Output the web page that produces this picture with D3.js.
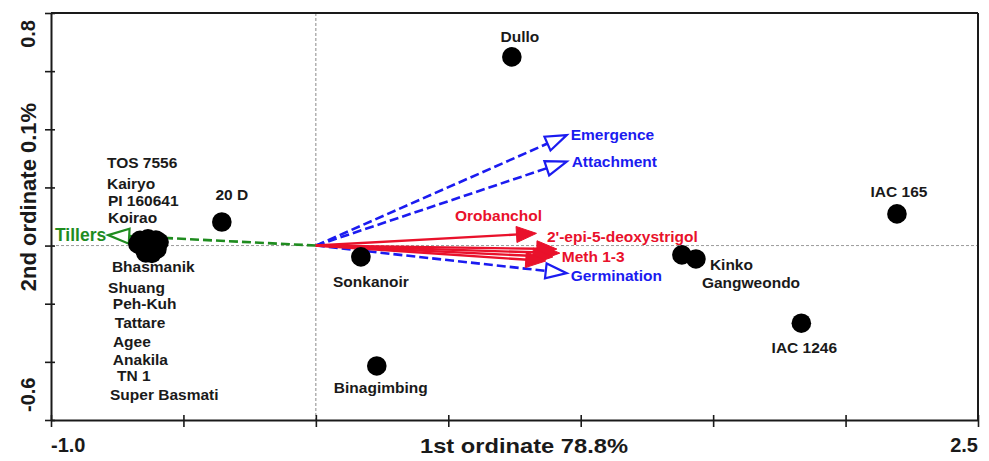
<!DOCTYPE html>
<html>
<head>
<meta charset="utf-8">
<script src="https://cdn.jsdelivr.net/npm/d3@7"></script>
<style>
  body { margin: 0; background: #fff; }
  text { font-family: "Liberation Sans", Arial, sans-serif; font-weight: bold; }
</style>
</head>
<body>
<div id="chart"></div>
<script>
// axis ranges and end labels
const xDomain = [-1.0, 2.5];
const yDomain = [-0.6, 0.8];
const xEndValues = [-1.0, 2.5];
const xEndLabels = ['-1.0', '2.5'];
const yEndValues = [0.8, -0.6];
const yEndLabels = ['0.8', '-0.6'];
const xTitle = '1st ordinate 78.8%';
const yTitle = '2nd ordinate 0.1%';

// cultivar scores
const cultivars = ['Dullo', '20 D', 'TOS 7556', 'Kairyo', 'PI 160641', 'Koirao', 'Bhasmanik', 'Shuang',
  'Peh-Kuh', 'Tattare', 'Agee', 'Anakila', 'TN 1', 'Super Basmati', 'Sonkanoir', 'Binagimbing',
  'Kinko', 'Gangweondo', 'IAC 165', 'IAC 1246'];
const axis1 = [0.740, -0.355, -0.664, -0.634, -0.604, -0.592, -0.653, -0.626,
  -0.608, -0.642, -0.619, -0.672, -0.600, -0.630, 0.170, 0.230,
  1.382, 1.435, 2.194, 1.833];
const axis2 = [0.649, 0.081, 0.018, 0.023, 0.019, 0.012, -0.005, -0.018,
  -0.001, -0.025, -0.027, 0.006, -0.012, 0.006, -0.039, -0.414,
  -0.032, -0.046, 0.109, -0.267];

// trait vectors
const traits = ['Emergence', 'Attachment', 'Germination', 'Tillers', 'Orobanchol',
  "2'-epi-5-deoxystrigol", 'Meth 1', 'Meth 2', 'Meth 3'];
const traitLabels = ['Emergence', 'Attachment', 'Germination', 'Tillers', 'Orobanchol',
  "2'-epi-5-deoxystrigol", 'Meth 1-3', '', ''];
const trait1 = [0.947, 0.947, 0.947, -0.784, 0.833, 0.910, 0.921, 0.895, 0.868];
const trait2 = [0.380, 0.289, -0.095, 0.036, 0.042, -0.012, -0.026, -0.039, -0.053];
const traitGroup = ['blue', 'blue', 'blue', 'green', 'red', 'red', 'red', 'red', 'red'];

// label placement (pixels from the mark)
const pointLabelPos = {
  'Dullo': [8, -15, 'middle'], '20 D': [10, -22, 'middle'],
  'TOS 7556': [-33, -72, 'start'], 'Kairyo': [-41, -50, 'start'],
  'PI 160641': [-48, -34, 'start'], 'Koirao': [-51, -19, 'start'],
  'Bhasmanik': [-31, 25, 'start'], 'Shuang': [-42, 42, 'start'],
  'Peh-Kuh': [-42, 63, 'start'], 'Tattare': [-31, 75, 'start'],
  'Agee': [-39, 94, 'start'], 'Anakila': [-25, 121, 'start'],
  'TN 1': [-40, 132, 'start'], 'Super Basmati': [-39, 156, 'start'],
  'Sonkanoir': [10, 30, 'middle'], 'Binagimbing': [4, 27, 'middle'],
  'Kinko': [28, 15, 'start'], 'Gangweondo': [6, 29, 'start'],
  'IAC 165': [2, -17, 'middle'], 'IAC 1246': [3, 30, 'middle']
};
const traitLabelPos = [[4, 5, 'start'], [5, 5, 'start'], [4, 8, 'start'], [-2, 6, 'end'],
  [-38, -12, 'middle'], [-10, -7, 'start'], [2, 9, 'start'], [0, 0, 'start'], [0, 0, 'start']];

const colors = { blue: '#1b1bf0', green: '#1f8c1f', red: '#e9112b' };

const width = 989, height = 461;
const svg = d3.select('#chart').append('svg')
  .attr('width', width).attr('height', height);
svg.append('rect').attr('width', width).attr('height', height).attr('fill', '#fff');

const xScale = d3.scaleLinear().domain(xDomain).range([51, 978]);
const yScale = d3.scaleLinear().domain(yDomain).range([420, 13]);

// zero reference lines
svg.append('line')
  .attr('x1', xScale(0)).attr('x2', xScale(0))
  .attr('y1', yScale(yDomain[1])).attr('y2', yScale(yDomain[0]))
  .attr('stroke', '#8a8a8a').attr('stroke-width', 1).attr('stroke-dasharray', '3 2');
svg.append('line')
  .attr('x1', xScale(xDomain[0])).attr('x2', xScale(xDomain[1]))
  .attr('y1', yScale(0)).attr('y2', yScale(0))
  .attr('stroke', '#9a9a9a').attr('stroke-width', 1).attr('stroke-dasharray', '3 2');

// axes
const xAxis = svg.append('g')
  .attr('transform', `translate(0, ${yScale(yDomain[0])})`)
  .call(d3.axisBottom(xScale).ticks(7).tickSize(7).tickSizeOuter(0).tickFormat(''));
xAxis.selectAll('line').attr('y1', -5);
const yAxis = svg.append('g')
  .attr('transform', `translate(${xScale(xDomain[0])}, 0)`)
  .call(d3.axisLeft(yScale).ticks(7).tickSize(6).tickSizeOuter(0).tickFormat(''));
yAxis.selectAll('line').attr('x1', 4);
svg.selectAll('.domain').attr('stroke', '#1a1a1a').attr('stroke-width', 2);
svg.selectAll('.tick line').attr('stroke', '#1a1a1a').attr('stroke-width', 1.6);

// top and right frame
svg.append('line')
  .attr('x1', xScale(xDomain[0])).attr('x2', xScale(xDomain[1]))
  .attr('y1', yScale(yDomain[1])).attr('y2', yScale(yDomain[1]))
  .attr('stroke', '#1a1a1a').attr('stroke-width', 2);
svg.append('line')
  .attr('x1', xScale(xDomain[1])).attr('x2', xScale(xDomain[1]))
  .attr('y1', yScale(yDomain[1])).attr('y2', yScale(yDomain[0]))
  .attr('stroke', '#1a1a1a').attr('stroke-width', 2);

// axis end labels
svg.selectAll('.xEnd')
  .data(xEndValues)
  .enter()
  .append('text')
  .attr('x', d => xScale(d))
  .attr('y', 452)
  .attr('text-anchor', (d, i) => i === 0 ? 'start' : 'end')
  .style('font-size', '20px')
  .attr('fill', '#1a1a1a')
  .text((d, i) => xEndLabels[i]);
svg.selectAll('.yEnd')
  .data(yEndValues)
  .enter()
  .append('text')
  .attr('transform', d => `translate(35, ${yScale(d) + (d > 0 ? 7 : -8)}) rotate(-90)`)
  .attr('text-anchor', d => d > 0 ? 'end' : 'start')
  .style('font-size', '20px')
  .attr('fill', '#1a1a1a')
  .text((d, i) => yEndLabels[i]);

svg.append('text')
  .attr('x', 524).attr('y', 453)
  .attr('text-anchor', 'middle')
  .attr('textLength', 208).attr('lengthAdjust', 'spacingAndGlyphs')
  .style('font-size', '21px')
  .attr('fill', '#1a1a1a')
  .text(xTitle);
svg.append('text')
  .attr('transform', 'translate(36, 197) rotate(-90)')
  .attr('text-anchor', 'middle')
  .style('font-size', '22px')
  .attr('fill', '#1a1a1a')
  .text(yTitle);

// trait vectors
const vectors = traits.map((t, i) => ({
  name: t, label: traitLabels[i], x: trait1[i], y: trait2[i], group: traitGroup[i]
}));
const ox = xScale(0), oy = yScale(0);

vectors.forEach((v, i) => {
  const tx = xScale(v.x), ty = yScale(v.y);
  const len = Math.hypot(tx - ox, ty - oy);
  const ux = (tx - ox) / len, uy = (ty - oy) / len;
  const isRed = v.group === 'red';
  const headLen = isRed ? 20 : 21;
  const headHalf = isRed ? 8 : 7.5;
  const bx = tx - ux * headLen, by = ty - uy * headLen;
  const col = colors[v.group];

  svg.append('line')
    .attr('x1', ox).attr('y1', oy)
    .attr('x2', isRed ? bx + ux * 2 : bx).attr('y2', isRed ? by + uy * 2 : by)
    .attr('stroke', col)
    .attr('stroke-width', isRed ? 2.4 : 2.6)
    .attr('stroke-dasharray', isRed ? null : '9 4');

  const head = [
    [tx, ty],
    [bx - uy * headHalf, by + ux * headHalf],
    [bx + uy * headHalf, by - ux * headHalf]
  ];
  svg.append('path')
    .attr('d', 'M' + head.map(p => p.join(',')).join('L') + 'Z')
    .attr('fill', isRed ? col : '#fff')
    .attr('stroke', col)
    .attr('stroke-width', isRed ? 1 : 2.2)
    .attr('stroke-linejoin', 'miter');
});

// points
const points = cultivars.map((c, i) => ({ name: c, x: axis1[i], y: axis2[i] }));
svg.selectAll('.pt')
  .data(points)
  .enter()
  .append('circle')
  .attr('cx', d => xScale(d.x))
  .attr('cy', d => yScale(d.y))
  .attr('r', 9.8)
  .attr('fill', '#000');

// point labels
svg.selectAll('.ptLabel')
  .data(points)
  .enter()
  .append('text')
  .attr('x', d => xScale(d.x) + pointLabelPos[d.name][0])
  .attr('y', d => yScale(d.y) + pointLabelPos[d.name][1])
  .attr('text-anchor', d => pointLabelPos[d.name][2])
  .style('font-size', '15.5px')
  .attr('fill', '#1a1a1a')
  .text(d => d.name);

// vector labels
svg.selectAll('.vecLabel')
  .data(vectors.filter(v => v.label !== ''))
  .enter()
  .append('text')
  .attr('x', d => xScale(d.x) + traitLabelPos[traits.indexOf(d.name)][0])
  .attr('y', d => yScale(d.y) + traitLabelPos[traits.indexOf(d.name)][1])
  .attr('text-anchor', d => traitLabelPos[traits.indexOf(d.name)][2])
  .style('font-size', d => d.group === 'green' ? '17.5px' : '15.5px')
  .attr('fill', d => colors[d.group])
  .text(d => d.label);
</script>
</body>
</html>
